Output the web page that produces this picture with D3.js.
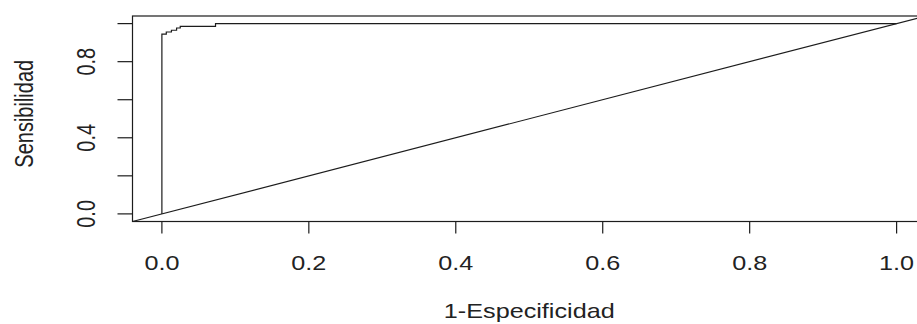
<!DOCTYPE html>
<html>
<head>
<meta charset="utf-8">
<script src="https://cdn.jsdelivr.net/npm/d3@7"></script>
<style>
  body { margin: 0; background: #fff; }
  svg { display: block; }
  text { font-family: "Liberation Sans", Arial, sans-serif; fill: #222; font-size: 20px; }
</style>
</head>
<body>
<svg width="917" height="324"></svg>
<script>
// ROC curve points (1-especificidad, sensibilidad)
var fpr = [0, 0, 0.006, 0.013, 0.02, 0.025, 0.073, 1];
var tpr = [0, 0.945, 0.956, 0.965, 0.977, 0.986, 1, 1];
var xTicks = [0, 0.2, 0.4, 0.6, 0.8, 1.0];
var yTicks = [0, 0.2, 0.4, 0.6, 0.8, 1.0];
var yLabelled = [0, 0.4, 0.8];

var svg = d3.select("svg"),
    box = { left: 132.5, right: 926, top: 16, bottom: 221.5 },
    stretch = 1.26,
    ink = "#1c1c1c";

var x = d3.scaleLinear().domain([-0.04, 1.04]).range([box.left, box.right]),
    y = d3.scaleLinear().domain([-0.04, 1.04]).range([box.bottom, box.top]);

var points = fpr.map(function(f, i) { return [f, tpr[i]]; });

var line = d3.line()
    .curve(d3.curveStepAfter)
    .x(function(d) { return x(d[0]); })
    .y(function(d) { return y(d[1]); });

// plot box
svg.append("rect")
    .attr("x", box.left)
    .attr("y", box.top)
    .attr("width", box.right - box.left)
    .attr("height", box.bottom - box.top)
    .attr("fill", "none")
    .attr("stroke", ink)
    .attr("stroke-width", 1.2);

// reference diagonal (abline 0,1)
svg.append("line")
    .attr("x1", x(-0.04)).attr("y1", y(-0.04))
    .attr("x2", x(1.04)).attr("y2", y(1.04))
    .attr("stroke", ink)
    .attr("stroke-width", 1.2);

svg.append("path")
    .datum(points)
    .attr("d", line)
    .attr("fill", "none")
    .attr("stroke", ink)
    .attr("stroke-width", 1.2);

// x axis ticks
svg.selectAll(".xtick")
    .data(xTicks)
    .enter().append("line")
    .attr("x1", function(d) { return x(d); })
    .attr("x2", function(d) { return x(d); })
    .attr("y1", box.bottom)
    .attr("y2", box.bottom + 12)
    .attr("stroke", ink)
    .attr("stroke-width", 1.2);

svg.selectAll(".xlab")
    .data(xTicks)
    .enter().append("text")
    .attr("text-anchor", "middle")
    .attr("transform", function(d) {
        return "translate(" + x(d) + ",270) scale(" + stretch + ",1)";
    })
    .text(function(d) { return d.toFixed(1); });

// y axis ticks
svg.selectAll(".ytick")
    .data(yTicks)
    .enter().append("line")
    .attr("x1", box.left - 15)
    .attr("x2", box.left)
    .attr("y1", function(d) { return y(d); })
    .attr("y2", function(d) { return y(d); })
    .attr("stroke", ink)
    .attr("stroke-width", 1.2);

svg.selectAll(".ylab")
    .data(yLabelled)
    .enter().append("text")
    .attr("text-anchor", "middle")
    .attr("transform", function(d) {
        return "translate(95," + y(d) + ") rotate(-90) scale(1," + stretch + ")";
    })
    .text(function(d) { return d.toFixed(1); });

// axis titles
svg.append("text")
    .attr("text-anchor", "middle")
    .attr("transform", "translate(" + ((box.left + box.right) / 2) + ",318) scale(" + stretch + ",1)")
    .text("1-Especificidad");

svg.append("text")
    .attr("text-anchor", "middle")
    .attr("transform", "translate(33," + ((box.top + box.bottom) / 2 - 5) + ") rotate(-90) scale(1," + stretch + ")")
    .text("Sensibilidad");
</script>
</body>
</html>
